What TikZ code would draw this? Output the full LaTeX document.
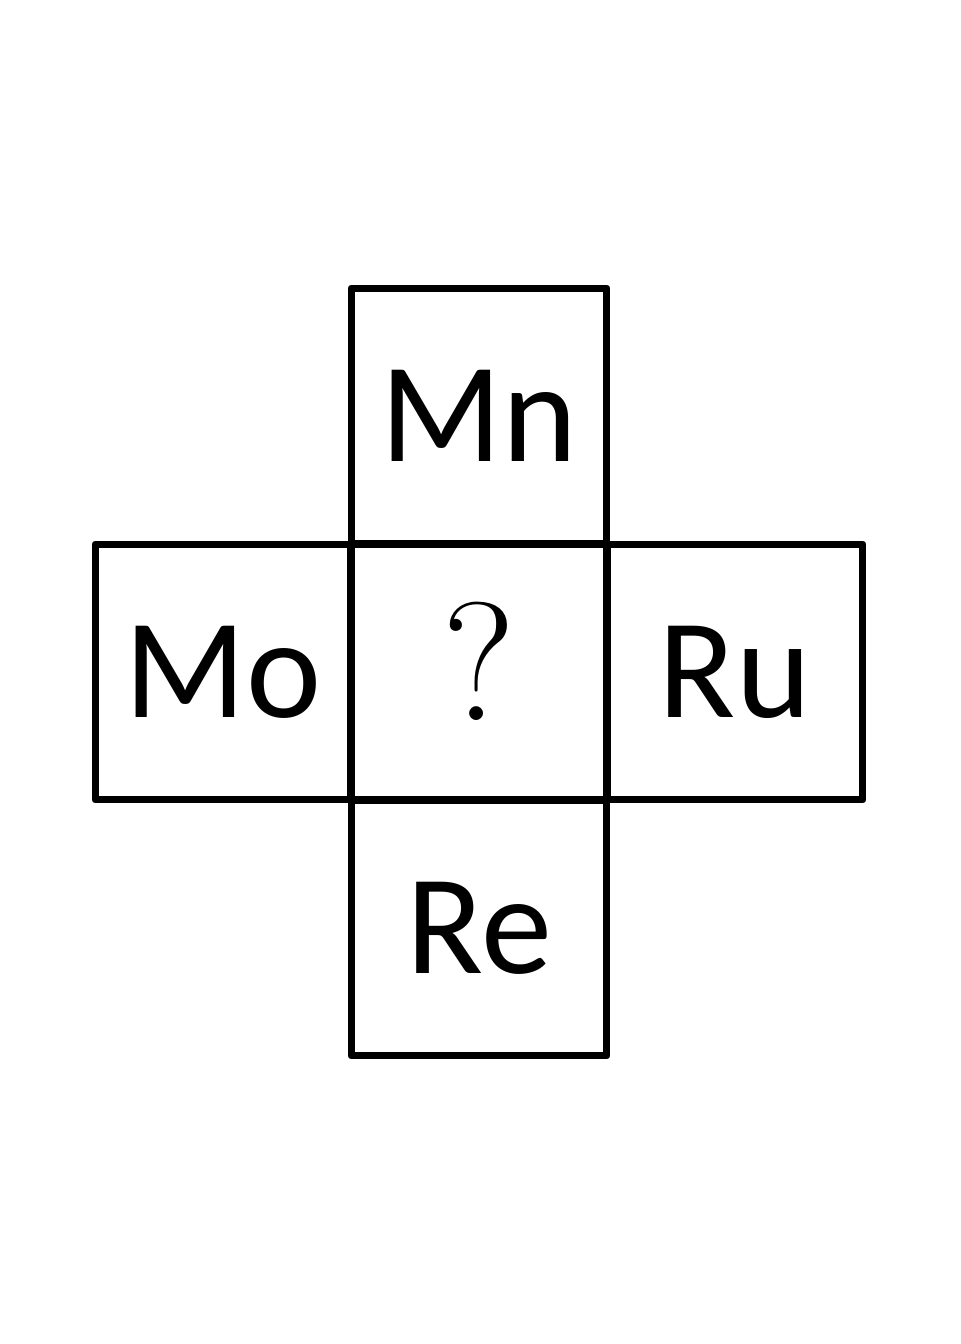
\documentclass[tikz,border=0pt]{standalone}
\usepackage{fontspec}
\setmainfont{Carlito}
\newfontfamily\qfont{Latin Modern Roman}
\begin{document}
\begin{tikzpicture}[x=0.02cm,y=-0.02cm,
  cell/.style={draw=black,line width=0.14cm,line join=round,rectangle,
    minimum width=5.12cm,minimum height=5.12cm,inner sep=0pt,
    font=\fontsize{81}{81}\selectfont}]
\useasboundingbox (0,0) rectangle (960,1344);
\node[cell] (c) at (479,672) {};
\node[font=\qfont\fontsize{96}{96}\selectfont,inner sep=0pt,yshift=6pt] (q) at (c.center) {?};
\node[cell] (t) at (479,416) {Mn};
\node[cell] (b) at (479,928) {Re};
\node[cell] (l) at (223,672) {Mo};
\node[cell] (r) at (735,672) {Ru};
\end{tikzpicture}
\end{document}
